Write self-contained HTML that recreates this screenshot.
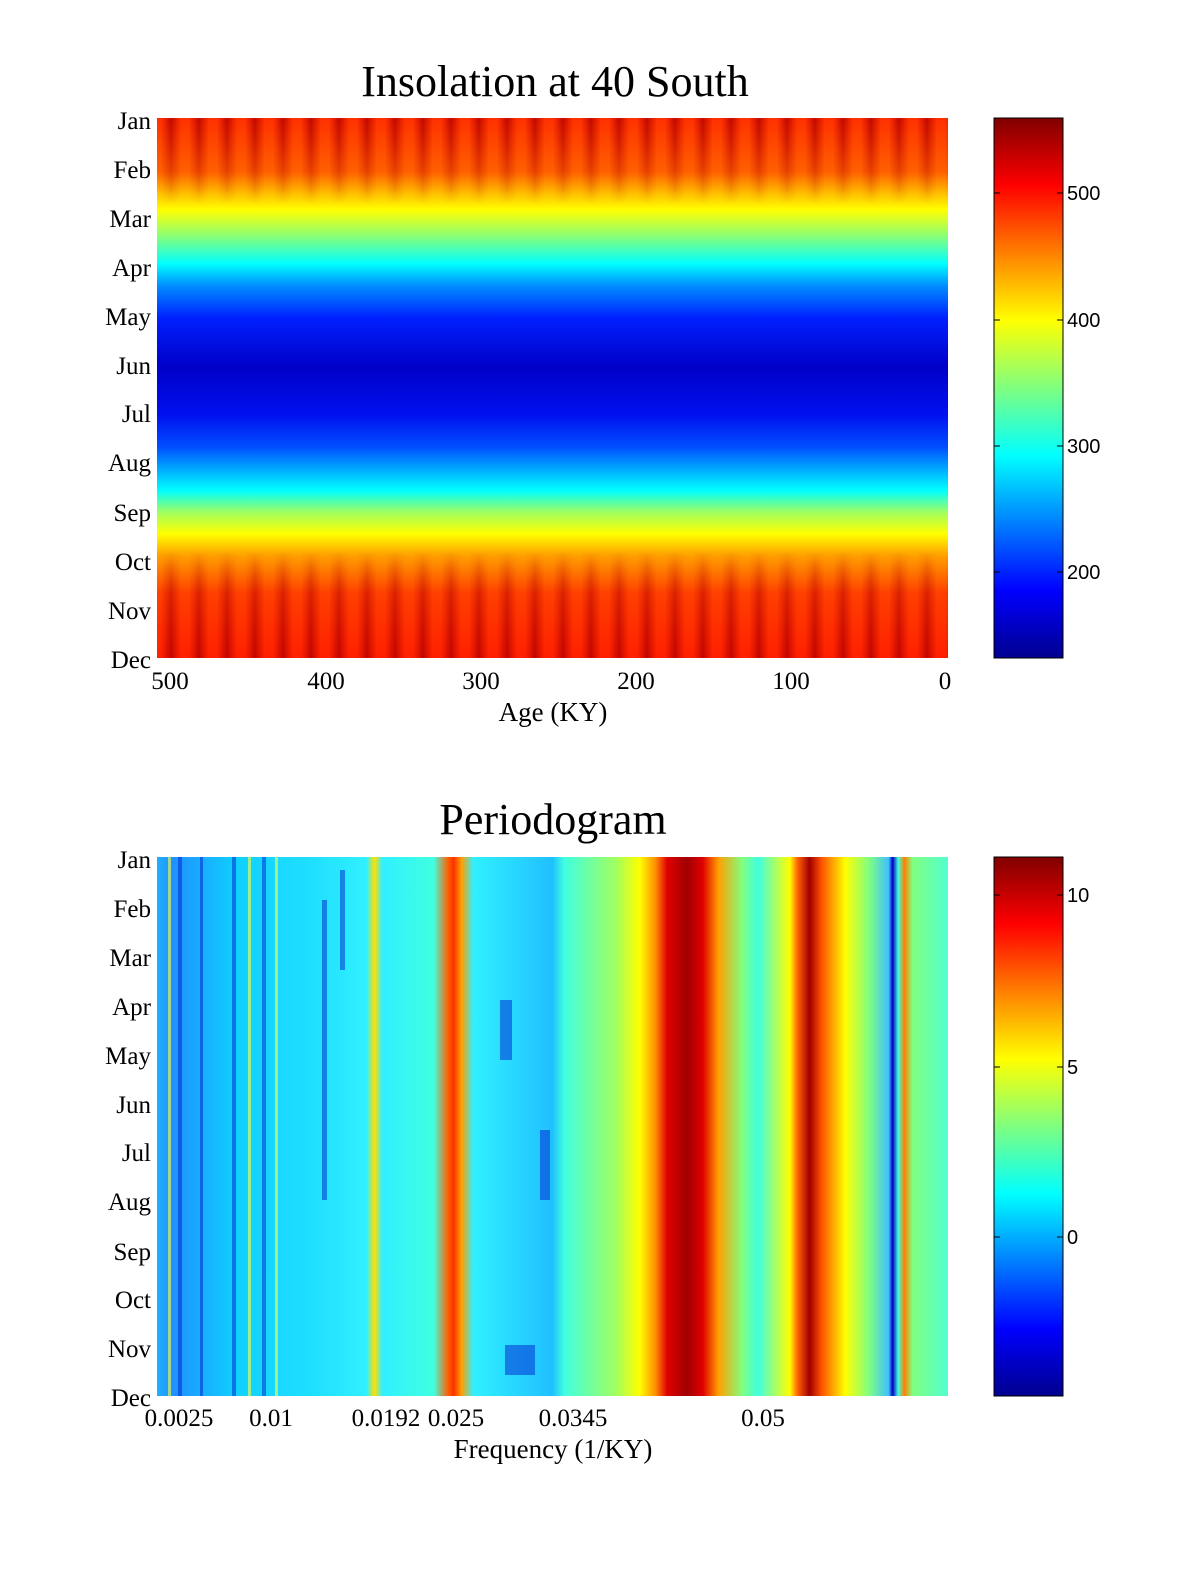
<!DOCTYPE html>
<html><head><style>
body{margin:0;background:#fff;}
svg{display:block}
.t{font-family:"Liberation Serif",serif;fill:#000}
.s{font-family:"Liberation Sans",sans-serif;fill:#000;font-size:20px}
</style></head><body>
<svg width="1200" height="1575" viewBox="0 0 1200 1575" xmlns="http://www.w3.org/2000/svg">
<defs>
<linearGradient id="top" x1="0" y1="0" x2="0" y2="1">
<stop offset="0" stop-color="#ff3000"/><stop offset="0.1" stop-color="#ff6000"/>
<stop offset="0.14" stop-color="#ffc000"/><stop offset="0.17" stop-color="#ffff00"/>
<stop offset="0.21" stop-color="#a0ff60"/><stop offset="0.27" stop-color="#00ffff"/>
<stop offset="0.31" stop-color="#0090ff"/><stop offset="0.37" stop-color="#0020ff"/>
<stop offset="0.46" stop-color="#0000c8"/><stop offset="0.55" stop-color="#0010f0"/>
<stop offset="0.61" stop-color="#0050ff"/><stop offset="0.66" stop-color="#00c0ff"/>
<stop offset="0.69" stop-color="#00ffff"/><stop offset="0.73" stop-color="#a0ff60"/>
<stop offset="0.77" stop-color="#ffff00"/><stop offset="0.81" stop-color="#ffa000"/>
<stop offset="0.88" stop-color="#ff4000"/><stop offset="1" stop-color="#ff2000"/>
</linearGradient>
<linearGradient id="str" x1="0" y1="0" x2="1" y2="0">
<stop offset="0" stop-color="#c00000" stop-opacity="0"/><stop offset="0.5" stop-color="#b00000" stop-opacity="0.8"/><stop offset="1" stop-color="#c00000" stop-opacity="0"/>
</linearGradient>
<pattern id="pat" x="157" y="0" width="28" height="540" patternUnits="userSpaceOnUse">
<rect x="4" y="0" width="20" height="540" fill="url(#str)"/>
</pattern>
<linearGradient id="mk" x1="0" y1="0" x2="0" y2="1">
<stop offset="0" stop-color="#fff"/><stop offset="0.1" stop-color="#fff" stop-opacity="0.4"/><stop offset="0.16" stop-color="#fff" stop-opacity="0"/>
<stop offset="0.8" stop-color="#fff" stop-opacity="0"/><stop offset="0.88" stop-color="#fff" stop-opacity="0.6"/><stop offset="1" stop-color="#fff"/>
</linearGradient>
<mask id="m1"><rect x="157" y="118" width="791" height="540" fill="url(#mk)"/></mask>
<linearGradient id="cb" x1="0" y1="1" x2="0" y2="0">
<stop offset="0" stop-color="#00008f"/><stop offset="0.125" stop-color="#0000ff"/><stop offset="0.375" stop-color="#00ffff"/><stop offset="0.625" stop-color="#ffff00"/><stop offset="0.875" stop-color="#ff0000"/><stop offset="1" stop-color="#800000"/>
</linearGradient>
<linearGradient id="bot" gradientUnits="userSpaceOnUse" x1="157" y1="0" x2="948" y2="0">
<stop offset="0" stop-color="#20b0ff"/>
<stop offset="0.02" stop-color="#2090ff"/>
<stop offset="0.1" stop-color="#10d0ff"/>
<stop offset="0.2" stop-color="#20e0ff"/>
<stop offset="0.265" stop-color="#30f0ff"/>
<stop offset="0.275" stop-color="#ffe000"/>
<stop offset="0.285" stop-color="#30f0ff"/>
<stop offset="0.35" stop-color="#40ffe0"/>
<stop offset="0.368" stop-color="#ff6000"/>
<stop offset="0.375" stop-color="#ff3000"/>
<stop offset="0.385" stop-color="#ffa000"/>
<stop offset="0.4" stop-color="#30f0ff"/>
<stop offset="0.5" stop-color="#20c0ff"/>
<stop offset="0.515" stop-color="#40ffe0"/>
<stop offset="0.58" stop-color="#a0ff60"/>
<stop offset="0.61" stop-color="#ffff00"/>
<stop offset="0.63" stop-color="#ff9000"/>
<stop offset="0.645" stop-color="#e00000"/>
<stop offset="0.67" stop-color="#a00000"/>
<stop offset="0.69" stop-color="#e00000"/>
<stop offset="0.71" stop-color="#ffa000"/>
<stop offset="0.74" stop-color="#80ff80"/>
<stop offset="0.76" stop-color="#40ffe0"/>
<stop offset="0.8" stop-color="#ffff00"/>
<stop offset="0.81" stop-color="#ff6000"/>
<stop offset="0.825" stop-color="#a00000"/>
<stop offset="0.84" stop-color="#ff5000"/>
<stop offset="0.87" stop-color="#ffff00"/>
<stop offset="0.9" stop-color="#80ff80"/>
<stop offset="0.925" stop-color="#40c0ff"/>
<stop offset="0.93" stop-color="#0000c0"/>
<stop offset="0.937" stop-color="#40ffe0"/>
<stop offset="0.945" stop-color="#ff8000"/>
<stop offset="0.955" stop-color="#80ff80"/>
<stop offset="1" stop-color="#50ffd0"/>
</linearGradient>
</defs>

<text class="t" x="555" y="96" font-size="44" text-anchor="middle">Insolation at 40 South</text>
<rect x="157" y="118" width="791" height="540" fill="url(#top)"/>
<rect x="157" y="118" width="791" height="540" fill="url(#pat)" mask="url(#m1)"/>
<g class="t" font-size="25" text-anchor="end">
<text x="151" y="129">Jan</text><text x="151" y="178">Feb</text><text x="151" y="227">Mar</text><text x="151" y="276">Apr</text><text x="151" y="325">May</text><text x="151" y="374">Jun</text><text x="151" y="422">Jul</text><text x="151" y="471">Aug</text><text x="151" y="521">Sep</text><text x="151" y="570">Oct</text><text x="151" y="619">Nov</text><text x="151" y="668">Dec</text>
</g>
<g class="t" font-size="25" text-anchor="middle">
<text x="170" y="689">500</text><text x="326" y="689">400</text><text x="481" y="689">300</text><text x="636" y="689">200</text><text x="791" y="689">100</text><text x="945" y="689">0</text>
<text x="553" y="721" font-size="27">Age (KY)</text>
</g>
<rect x="994" y="118" width="69" height="540" fill="url(#cb)" stroke="#000" stroke-width="1"/>
<g stroke="#000" stroke-width="1"><line x1="994" y1="193" x2="1000" y2="193"/><line x1="1057" y1="193" x2="1063" y2="193"/><line x1="994" y1="320" x2="1000" y2="320"/><line x1="1057" y1="320" x2="1063" y2="320"/><line x1="994" y1="446" x2="1000" y2="446"/><line x1="1057" y1="446" x2="1063" y2="446"/><line x1="994" y1="572" x2="1000" y2="572"/><line x1="1057" y1="572" x2="1063" y2="572"/></g>
<g class="s"><text x="1067" y="200">500</text><text x="1067" y="327">400</text><text x="1067" y="453">300</text><text x="1067" y="579">200</text></g>

<text class="t" x="553" y="834" font-size="44" text-anchor="middle">Periodogram</text>
<rect x="157" y="857" width="791" height="539" fill="url(#bot)"/>
<g fill="#0020d0" opacity="0.5">
<rect x="178" y="857" width="4" height="539"/><rect x="200" y="857" width="3" height="539"/><rect x="232" y="857" width="4" height="539"/><rect x="262" y="857" width="4" height="539"/><rect x="322" y="900" width="5" height="300"/><rect x="340" y="870" width="5" height="100"/><rect x="500" y="1000" width="12" height="60"/><rect x="505" y="1345" width="30" height="30"/><rect x="540" y="1130" width="10" height="70"/>
</g>
<g fill="#ffff40" opacity="0.6"><rect x="168" y="857" width="3" height="539"/><rect x="248" y="857" width="3" height="539"/><rect x="275" y="857" width="3" height="539"/></g>
<g class="t" font-size="25" text-anchor="end">
<text x="151" y="868">Jan</text><text x="151" y="917">Feb</text><text x="151" y="966">Mar</text><text x="151" y="1015">Apr</text><text x="151" y="1064">May</text><text x="151" y="1113">Jun</text><text x="151" y="1161">Jul</text><text x="151" y="1210">Aug</text><text x="151" y="1260">Sep</text><text x="151" y="1308">Oct</text><text x="151" y="1357">Nov</text><text x="151" y="1406">Dec</text>
</g>
<g class="t" font-size="25" text-anchor="middle">
<text x="179" y="1426">0.0025</text><text x="271" y="1426">0.01</text><text x="386" y="1426">0.0192</text><text x="456" y="1426">0.025</text><text x="573" y="1426">0.0345</text><text x="763" y="1426">0.05</text>
<text x="553" y="1458" font-size="27">Frequency (1/KY)</text>
</g>
<rect x="994" y="857" width="69" height="539" fill="url(#cb)" stroke="#000" stroke-width="1"/>
<g stroke="#000" stroke-width="1"><line x1="994" y1="895" x2="1000" y2="895"/><line x1="1057" y1="895" x2="1063" y2="895"/><line x1="994" y1="1067" x2="1000" y2="1067"/><line x1="1057" y1="1067" x2="1063" y2="1067"/><line x1="994" y1="1237" x2="1000" y2="1237"/><line x1="1057" y1="1237" x2="1063" y2="1237"/></g>
<g class="s"><text x="1067" y="902">10</text><text x="1067" y="1074">5</text><text x="1067" y="1244">0</text></g>
</svg>
</body></html>
